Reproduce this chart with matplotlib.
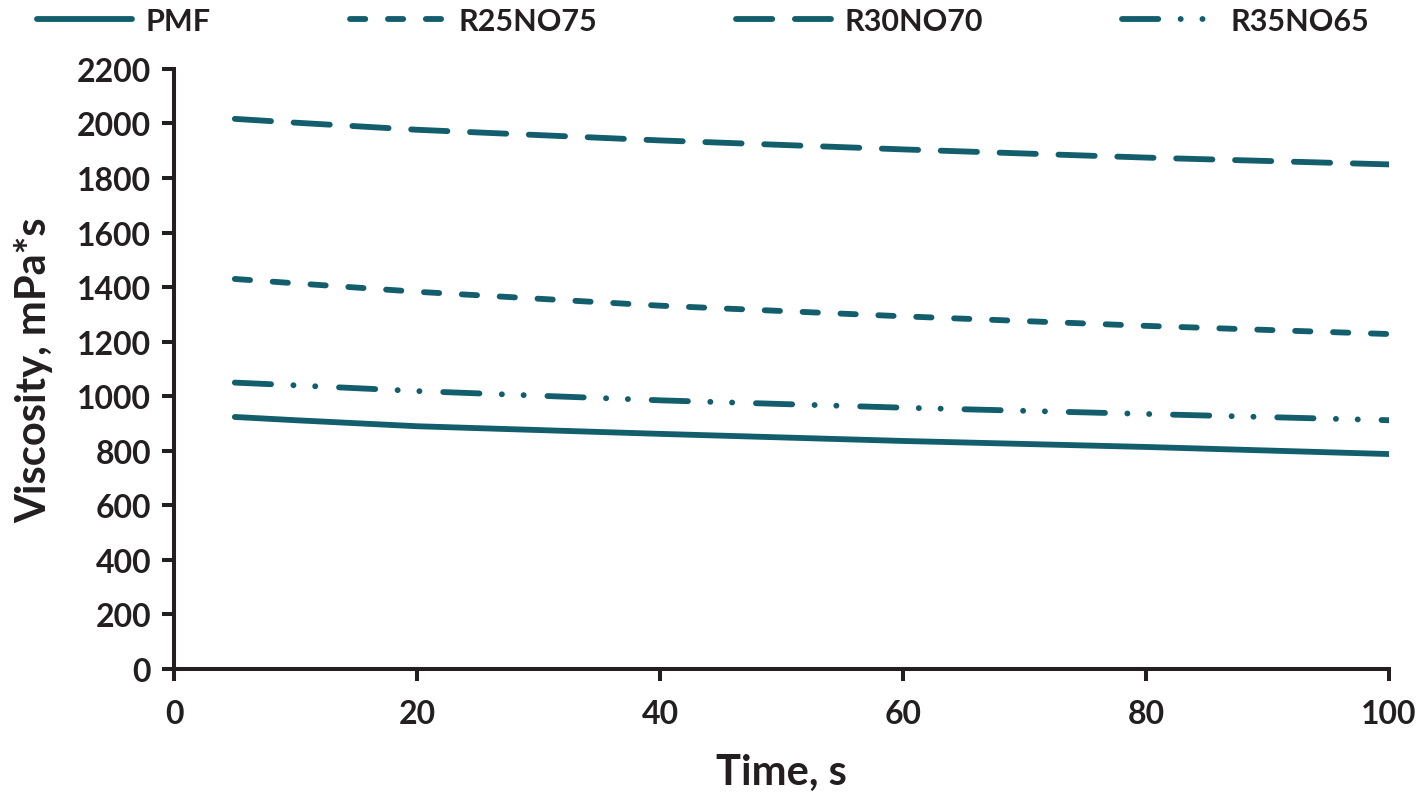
import matplotlib
matplotlib.use("Agg")
import matplotlib.pyplot as plt

plt.rcParams['font.family'] = ['Lato', 'DejaVu Sans']
plt.rcParams['font.weight'] = 'bold'
plt.rcParams['lines.scale_dashes'] = False

# time, s
time_s = [5, 10, 20, 40, 60, 80, 100]
# viscosity, mPa*s
pmf = [924, 912, 890, 862, 836, 814, 788]
r25no75 = [1430, 1414, 1383, 1332, 1293, 1258, 1228]
r30no70 = [2017, 2003, 1977, 1938, 1905, 1875, 1850]
r35no65 = [1050, 1040, 1019, 985, 958, 935, 912]
labels = ["PMF", "R25NO75", "R30NO70", "R35NO65"]

col = "#135e6c"
ink = "#231f20"
lw = 4.2

fig = plt.figure(figsize=(14.21, 8.04), dpi=100)
ax = fig.add_axes([0.1225, 0.1667, 0.855, 0.7463])

ax.plot(time_s, pmf, color=col, lw=lw, solid_capstyle="round", label=labels[0])
ax.plot(time_s, r25no75, color=col, lw=lw, dash_capstyle="round",
        dashes=(11, 16.3), label=labels[1])
ax.plot(time_s, r30no70, color=col, lw=lw, dash_capstyle="round",
        dashes=(26.1, 16.3), label=labels[2])
ax.plot(time_s, r35no65, color=col, lw=lw, dash_capstyle="round",
        dashes=(26.1, 16.1, 0.1, 15.6, 0.1, 17.1), label=labels[3])

ax.set_xlim(0, 100)
ax.set_ylim(0, 2200)
ax.set_xticks(range(0, 101, 20))
ax.set_yticks(range(0, 2201, 200))
for s in ["top", "right"]:
    ax.spines[s].set_visible(False)
for s in ["left", "bottom"]:
    ax.spines[s].set_linewidth(2.9)
    ax.spines[s].set_color(ink)
ax.tick_params(direction="out", length=8.6, width=2.9, color=ink,
               labelsize=23, labelcolor=ink)
ax.tick_params(axis="x", pad=13)
ax.tick_params(axis="y", pad=8)

ax.set_xlabel("Time, s", fontsize=30, fontweight="bold", color=ink, labelpad=18)
ax.set_ylabel("Viscosity, mPa*s", fontsize=30, fontweight="bold", color=ink, labelpad=17)

fig.legend(loc="center left", bbox_to_anchor=(0.026, 0.973), ncol=4, frameon=False,
           fontsize=22, handlelength=3.1, handletextpad=0.45, columnspacing=4.55,
           borderaxespad=0, borderpad=0, labelcolor=ink)

fig.savefig("out.png", dpi=100)
